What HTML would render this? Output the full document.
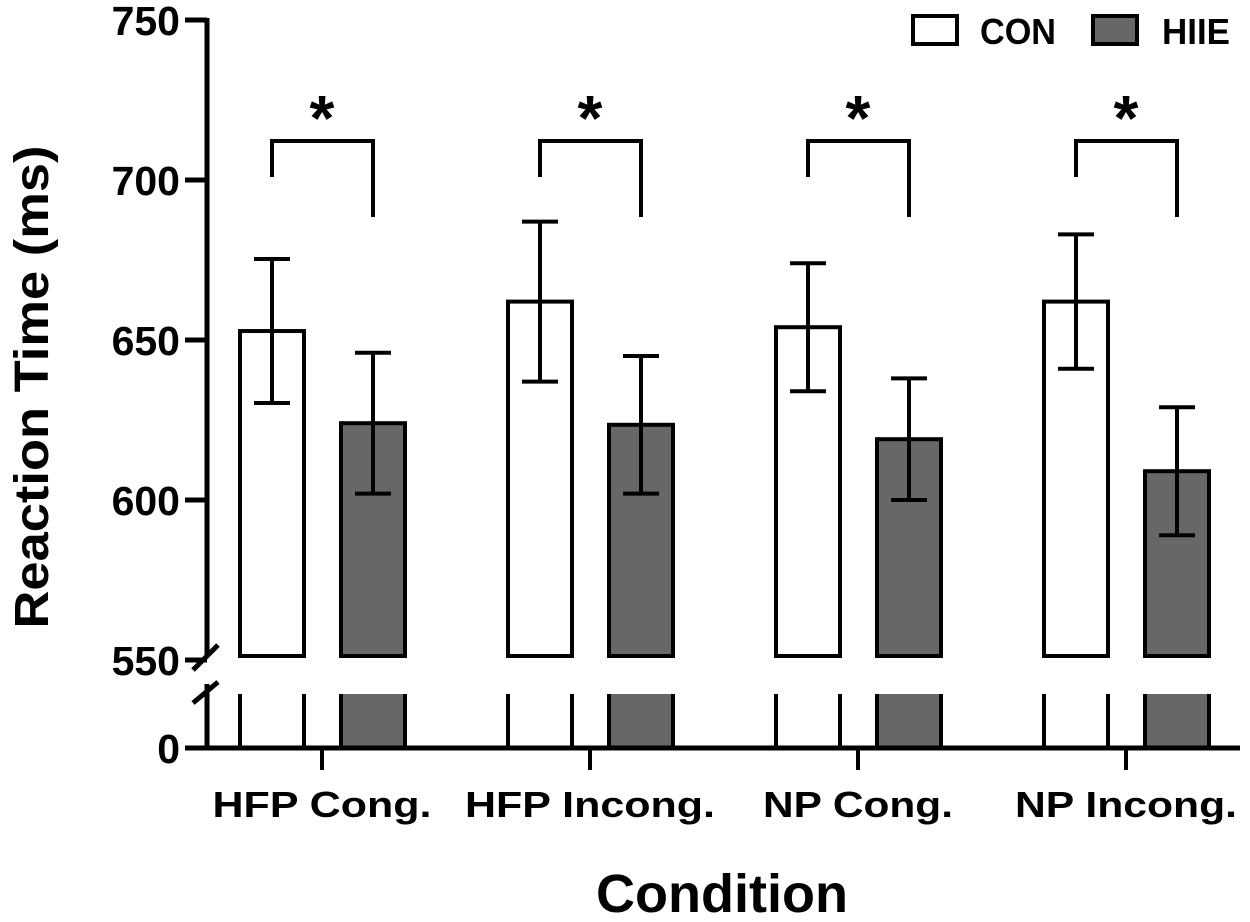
<!DOCTYPE html>
<html><head><meta charset="utf-8"><style>
body{margin:0;background:#fff}
svg{display:block;font-family:"Liberation Sans",Arial,sans-serif;font-weight:bold}
</style></head><body>
<svg width="1250" height="922" id="c">
</svg>
<script>
const categories=["HFP Cong.","HFP Incong.","NP Cong.","NP Incong."];
const conValues=[652.8,662,654,662];
const conErrors=[22.5,25,20,21];
const hiieValues=[624,623.5,619,609];
const hiieErrors=[22,21.5,19,20];
const yTicks=[550,600,650,700,750];
const svg=document.getElementById('c');
const NS='http://www.w3.org/2000/svg';
function y(v){return 660-(v-550)*3.2;}
function xc(i){return 322+i*268;}
function add(tag,attrs,txt){const e=document.createElementNS(NS,tag);for(const k in attrs)e.setAttribute(k,attrs[k]);if(txt!==undefined)e.textContent=txt;svg.appendChild(e);return e;}
const base=747,bw=64;
categories.forEach((c,i)=>{
  [[conValues,conErrors,'#fff',-50,'con'],[hiieValues,hiieErrors,'#67676a',51,'hiie']].forEach(([vals,errs,fill,off,nm])=>{
    const cx=xc(i)+off, top=y(vals[i]);
    let r=add('rect',{x:cx-bw/2,y:top,width:bw,height:656-top,fill:fill,stroke:'#000','stroke-width':4});
    
    
    add('rect',{x:cx-bw/2+2,y:694,width:bw-4,height:base-694,fill:fill});
    add('path',{d:`M${cx-bw/2} 694V${base}M${cx+bw/2} 694V${base}`,stroke:'#000','stroke-width':4});
    const hi=y(vals[i]+errs[i]),lo=y(vals[i]-errs[i]);
    let e=add('path',{d:`M${cx} ${lo}V${hi}M${cx-18} ${hi}H${cx+18}M${cx-18} ${lo}H${cx+18}`,stroke:'#000','stroke-width':4,fill:'none'});
    
    
  });
  const l=xc(i)-50,r=xc(i)+51;
  let b=add('path',{d:`M${l} 177V141H${r}V217`,stroke:'#000','stroke-width':4,fill:'none'});
  
  
  let s=add('text',{x:xc(i),y:140,'font-size':64,'text-anchor':'middle'},'*');
  
  
  add('line',{x1:xc(i),y1:747,x2:xc(i),y2:770,stroke:'#000','stroke-width':4});
  let t=add('text',{x:xc(i),y:817,'font-size':36,'text-anchor':'middle',textLength:219,lengthAdjust:'spacingAndGlyphs'},c);
  if(i==1)t.setAttribute('textLength',250);
  if(i==2)t.setAttribute('textLength',190);
  if(i==3)t.setAttribute('textLength',222);
  
  
});
// axes
add('path',{d:'M207 18V656',stroke:'#000','stroke-width':5});
add('path',{d:'M207 684V748',stroke:'#000','stroke-width':5});
add('path',{d:'M185 748H1240',stroke:'#000','stroke-width':5});
add('path',{d:'M193 670L218 645M193 703L218 682',stroke:'#000','stroke-width':5});
yTicks.forEach(v=>{
  add('line',{x1:185,y1:y(v),x2:207,y2:y(v),stroke:'#000','stroke-width':5});
  let t=add('text',{x:180,y:y(v)+15,'font-size':41,'text-anchor':'end'},v);
  
  
});
let z=add('text',{x:180,y:763,'font-size':41,'text-anchor':'end'},'0');


let yt=add('text',{x:0,y:0,'font-size':48,'text-anchor':'middle',textLength:483,lengthAdjust:'spacingAndGlyphs',transform:'translate(48,387) rotate(-90)'},'Reaction Time (ms)');


let xt=add('text',{x:722,y:912,'font-size':54,'text-anchor':'middle',textLength:252,lengthAdjust:'spacingAndGlyphs'},'Condition');


// legend
let lg1=add('rect',{x:913,y:16,width:44,height:28,fill:'#fff',stroke:'#000','stroke-width':4});


add('text',{x:980,y:44,'font-size':36,textLength:76,lengthAdjust:'spacingAndGlyphs'},'CON');
let lg2=add('rect',{x:1093,y:16,width:44,height:28,fill:'#67676a',stroke:'#000','stroke-width':4});


add('text',{x:1162,y:44,'font-size':36,textLength:68,lengthAdjust:'spacingAndGlyphs'},'HIIE');
</script>
</body></html>
